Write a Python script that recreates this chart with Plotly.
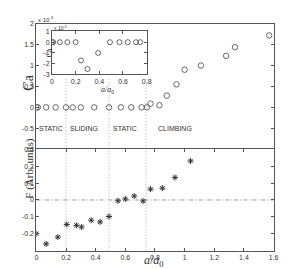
import plotly.graph_objects as go

# ---- data ----
ca_x = [0.0, 0.01, 0.066, 0.13, 0.20, 0.245, 0.30, 0.39, 0.49, 0.57, 0.64, 0.71, 0.745,
        0.77, 0.83, 0.88, 0.945, 1.0, 1.11, 1.28, 1.34, 1.57]
ca_y = [0.0, 0.0, 0.0, 0.0, 0.0, -0.0017, -0.0025, -0.001, 0.0, 0.0, 0.0, 0.0, 0.0,
        0.09, 0.05, 0.28, 0.55, 0.9, 1.0, 1.23, 1.44, 1.72]  # units of 1e-3

inset_x = [0.0, 0.01, 0.066, 0.13, 0.20, 0.245, 0.30, 0.39, 0.49, 0.57, 0.64, 0.71, 0.745]
inset_y = [0.0, 0.0, 0.0, 0.0, 0.0, -1.7, -2.5, -1.0, 0.0, 0.0, 0.0, 0.0, 0.0]  # units of 1e-3

f_x = [0.0, 0.066, 0.145, 0.205, 0.27, 0.305, 0.37, 0.43, 0.49, 0.55, 0.60, 0.66, 0.72,
       0.77, 0.85, 0.935, 1.04]
f_y = [-0.20, -0.26, -0.22, -0.145, -0.15, -0.16, -0.12, -0.13, -0.098, -0.005, 0.006,
       0.023, -0.006, 0.064, 0.07, 0.133, 0.231]

regime_x = [0.2, 0.49, 0.74]
regime_labels = ["STATIC", "SLIDING", "STATIC", "CLIMBING"]
regime_label_x = [0.1, 0.32, 0.6, 0.935]

x_ticks = [0, 0.2, 0.4, 0.6, 0.8, 1.0, 1.2, 1.4, 1.6]
x_ticktext = ["0", "0.2", "0.4", "0.6", "0.8", "1", "1.2", "1.4", "1.6"]
ca_ticks = [-0.5, 0, 0.5, 1, 1.5, 2]
ca_ticktext = ["-0.5", "0", "0.5", "1", "1.5", "2"]
f_ticks = [-0.2, -0.1, 0, 0.1, 0.2, 0.3]
f_ticktext = ["-0.2", "-0.1", "0", "0.1", "0.2", "0.3"]
in_xticks = [0, 0.2, 0.4, 0.6, 0.8]
in_xtext = ["0", "0.2", "0.4", "0.6", "0.8"]
in_yticks = [-3, -2, -1, 0, 1]
in_ytext = ["-3", "-2", "-1", "0", "1"]

# ---- style ----
LINE = "#555555"
TXT = "#333333"
MK = "#444444"
tickfont = dict(family="Liberation Sans, Arial", size=7, color=TXT)
serif = "Liberation Serif, Times New Roman, serif"

fig = go.Figure()

# dotted regime lines
for xv in regime_x:
    fig.add_trace(go.Scatter(x=[xv, xv], y=[-1, 0.72], mode="lines", xaxis="x", yaxis="y",
                             line=dict(color="#aaaaaa", width=1, dash="1px,2px"),
                             hoverinfo="skip", showlegend=False))
    fig.add_trace(go.Scatter(x=[xv, xv], y=[-0.3, 0.3], mode="lines", xaxis="x2", yaxis="y2",
                             line=dict(color="#aaaaaa", width=1, dash="1px,2px"),
                             hoverinfo="skip", showlegend=False))

# zero dash-dot line
fig.add_trace(go.Scatter(x=[0, 1.6], y=[0, 0], mode="lines", xaxis="x2", yaxis="y2",
                         line=dict(color="#999999", width=1, dash="4px,2px,1px,2px"),
                         hoverinfo="skip", showlegend=False))

fig.add_trace(go.Scatter(x=ca_x, y=ca_y, mode="markers", xaxis="x", yaxis="y",
                         marker=dict(symbol="circle-open", size=5.5, color=MK,
                                     line=dict(width=0.8, color=MK)),
                         showlegend=False))
fig.add_trace(go.Scatter(x=f_x, y=f_y, mode="markers", xaxis="x2", yaxis="y2",
                         marker=dict(symbol="asterisk-open", size=5, color="#333333",
                                     line=dict(width=1, color="#333333")),
                         showlegend=False))
fig.add_trace(go.Scatter(x=inset_x, y=inset_y, mode="markers", xaxis="x3", yaxis="y3",
                         marker=dict(symbol="circle-open", size=5, color=MK,
                                     line=dict(width=0.8, color=MK)),
                         showlegend=False))

XD = [27 / 295, 270 / 295]
common = dict(showline=True, linecolor=LINE, linewidth=1, showgrid=False, zeroline=False,
              tickfont=tickfont, tickcolor=LINE, ticklen=3, tickwidth=0.8)

fig.update_layout(
    width=295, height=269, margin=dict(l=0, r=0, t=0, b=0),
    paper_bgcolor="white", plot_bgcolor="white",
    xaxis=dict(domain=XD, anchor="y", range=[0, 1.6], showticklabels=False, ticks="",
               mirror=True, **common),
    yaxis=dict(domain=[129 / 269, 257 / 269], anchor="x", range=[-0.98, 2], tickvals=ca_ticks,
               ticktext=ca_ticktext, ticks="inside", mirror="ticks", **common),
    xaxis2=dict(domain=XD, anchor="y2", range=[0, 1.6], tickvals=x_ticks, ticktext=x_ticktext,
                ticks="inside", mirror="ticks", **common),
    yaxis2=dict(domain=[24 / 269, 128 / 269], anchor="x2", range=[-0.3, 0.3], tickvals=f_ticks,
                ticktext=f_ticktext, ticks="inside", mirror="ticks", **common),
    xaxis3=dict(domain=[43 / 295, 140 / 295], anchor="y3", range=[0, 0.8], tickvals=in_xticks,
                ticktext=in_xtext, ticks="inside", mirror="ticks", **common),
    yaxis3=dict(domain=[205 / 269, 249 / 269], anchor="x3", range=[-3, 1], tickvals=in_yticks,
                ticktext=in_ytext, ticks="inside", mirror="ticks", **common),
)

ann = []
for lab, xv in zip(regime_labels, regime_label_x):
    ann.append(dict(x=xv, y=-0.5, xref="x", yref="y", text=lab, showarrow=False,
                    font=dict(family="Liberation Sans, Arial", size=7, color=TXT)))
ann += [
    dict(x=27 / 295, y=1 - 1 / 269, xref="paper", yref="paper", xanchor="left", yanchor="top",
         text="x 10<sup>-3</sup>", showarrow=False,
         font=dict(family="Liberation Sans, Arial", size=6, color=TXT)),
    dict(x=43 / 295, y=1 - 11 / 269, xref="paper", yref="paper", xanchor="left", yanchor="top",
         text="x 10<sup>-3</sup>", showarrow=False,
         font=dict(family="Liberation Sans, Arial", size=5, color=TXT)),
    dict(x=9 / 295, y=1 - 62 / 269, xref="paper", yref="paper", text="Ca", textangle=-90,
         showarrow=False, font=dict(family=serif, size=14, color=TXT)),
    dict(x=11 / 295, y=1 - 194 / 269, xref="paper", yref="paper", text="F (Arb. units)",
         textangle=-90, showarrow=False, font=dict(family=serif, size=11, color=TXT)),
    dict(x=147 / 295, y=0, xref="paper", yref="paper", yanchor="bottom", yshift=3,
         text="<i>a</i>/<i>a</i><sub>0</sub>", showarrow=False,
         font=dict(family=serif, size=12, color=TXT)),
    dict(x=91 / 295, y=1 - 73 / 269, xref="paper", yref="paper",
         text="<i>a</i>/<i>a</i><sub>0</sub>", showarrow=False,
         font=dict(family=serif, size=8, color=TXT)),
    dict(x=34 / 295, y=1 - 35 / 269, xref="paper", yref="paper", text="Ca", textangle=-90,
         showarrow=False, font=dict(family=serif, size=8, color=TXT)),
]
fig.update_layout(annotations=ann)

fig.write_html("out.html")
